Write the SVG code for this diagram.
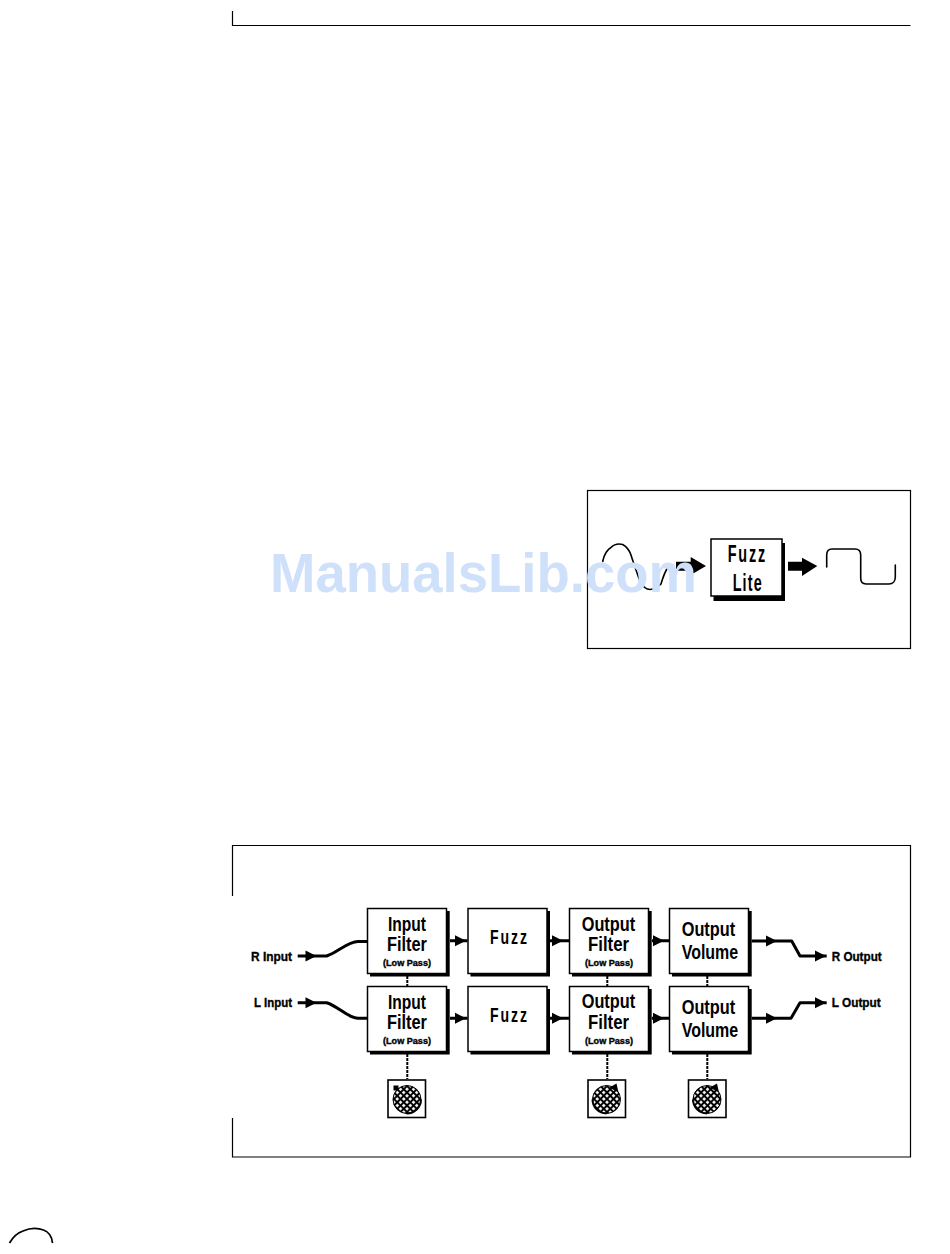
<svg xmlns="http://www.w3.org/2000/svg" width="950" height="1254" viewBox="0 0 950 1254">
<style>
text{font-family:"Liberation Sans",Arial,sans-serif;font-weight:700;fill:#000;text-anchor:start}
.frame{fill:none;stroke:#000;stroke-width:1.2}
.box{fill:#fff;stroke:#000;stroke-width:1.5}
.shadow{fill:#000}
.big{font-size:19.5px}
.fz{font-size:19.5px}
.small{font-size:8.5px;stroke:#000;stroke-width:.35}
.io{font-size:13px;stroke:#000;stroke-width:.35}
.wire{fill:none;stroke:#000;stroke-width:3;stroke-linejoin:round}
.thin{fill:none;stroke:#000;stroke-width:1.6;stroke-linejoin:round;stroke-linecap:round}
.link{fill:none;stroke:#000;stroke-width:2;stroke-dasharray:3 1}
.head{fill:#000}
.wm{font-size:55px;fill:#cfe1fa}
</style>
<defs>
<pattern id="dots" width="4.6" height="4.6" patternUnits="userSpaceOnUse" patternTransform="rotate(45)">
<rect width="4.6" height="4.6" fill="#000"/>
<rect x="1" y="1" width="2.600" height="2.600" fill="#fff"/>
</pattern>
<path id="ah" class="head" d="M0-5.500L11 0L0 5.500Z"/>
<g id="knobL">
<rect x="0.500" y="0.500" width="37.500" height="37.500" fill="#fff" stroke="#000" stroke-width="1.600"/>
<circle cx="19.500" cy="20" r="14" fill="url(#dots)" stroke="#000" stroke-width="1"/>
<path d="M19 34A14 14 0 0 0 33.500 20" fill="none" stroke="#000" stroke-width="2"/>
<rect x="6" y="6" width="5" height="5" fill="#000"/>
</g>
<g id="knobR">
<rect x="0.500" y="0.500" width="37.500" height="37.500" fill="#fff" stroke="#000" stroke-width="1.600"/>
<circle cx="19" cy="20" r="14" fill="url(#dots)" stroke="#000" stroke-width="1"/>
<path d="M5 20A14 14 0 0 0 19 34" fill="none" stroke="#000" stroke-width="2"/>
<path d="M22 8L29 4L31 13Z" fill="#000"/>
</g>
</defs>

<g id="page-rule">
<path class="frame" d="M232.500 11V25.500H910.500"/>
</g>
<path id="page-arc" fill="none" stroke="#000" stroke-width="1.800" d="M9.500 1243C13 1237 17 1233 23 1231C30 1228 38 1228 43.500 1230C49 1232 52 1237 52.500 1243"/>

<g id="fig1-frame"><rect class="frame" x="587.500" y="490.500" width="323" height="158"/></g>
<g id="fig1-sine"><path class="thin" d="M602.700 561.500C604 554 608 549 611 547.500C614 544.500 619 543.500 622.700 544.500C627 547 630 552 631 555C633 562 637 572 640 581.700C643 587 646 589.500 650 589.500C655 589 658 587 661 584C663 577 666 570 668.300 566.500"/></g>
<g id="fig1-connectors">
<path class="head" d="M676 561.700H690.700V557L706 566L690.700 575V570.700H676Z"/>
<path class="head" d="M788 561.700H802V557.700L817.300 566L802 576V570.700H788Z"/>
</g>
<g id="fuzz-lite">
<rect class="shadow" x="713.500" y="543" width="71.500" height="58"/>
<rect class="box" x="711" y="539" width="71" height="57"/>
<text transform="translate(727.700 561.700) scale(.6 1)" font-size="24" textLength="62.600" lengthAdjust="spacing">Fuzz</text>
<text transform="translate(732.700 590.700) scale(.6 1)" font-size="24" textLength="48.300" lengthAdjust="spacing">Lite</text>
</g>
<g id="fig1-square"><path class="thin" d="M826.700 567V555C826.700 551 829 549 832 549H855C859 549 860.700 551 860.700 555V578C860.700 582 863 584 866 584H889C893 584 895.300 581 895.300 577V565"/></g>

<g id="fig2-frame"><path class="frame" d="M232.500 896V845.500H910.500V1157H232.500V1118"/></g>

<g id="connectors">
<path class="wire" d="M297.700 956H326.700C338 952 348 941.500 358 941.500H367.300"/>
<path class="wire" d="M297.700 1002.700H326.700C338 1006 348 1018.300 358 1018.300H367.300"/>
<path class="wire" d="M450 940.700H467.500M550 940.700H569.300M652 940.700H669.300"/>
<path class="wire" d="M450 1018.300H467.500M550 1018.300H569.300M652 1018.300H669.300"/>
<path class="wire" d="M751.700 941H791.700L800 956H826.700"/>
<path class="wire" d="M751.700 1018.300H791L800 1002.700H826.700"/>
<path class="link" d="M407.300 976V987M607.300 976V987M707.300 976V987"/>
<path class="link" d="M407.300 1054V1079M607.300 1054V1079M707.300 1054V1079"/>
<use href="#ah" x="305.500" y="956"/>
<use href="#ah" x="305.500" y="1002.700"/>
<use href="#ah" x="455" y="940.700"/>
<use href="#ah" x="455" y="1018.300"/>
<use href="#ah" x="552" y="940.700"/>
<use href="#ah" x="552" y="1018.300"/>
<use href="#ah" x="653" y="940.700"/>
<use href="#ah" x="653" y="1018.300"/>
<use href="#ah" x="766" y="941"/>
<use href="#ah" x="766" y="1018.300"/>
<use href="#ah" x="815" y="956"/>
<use href="#ah" x="815" y="1002.700"/>
</g>

<g id="label-r-input"><text class="io" x="251" y="960.700" textLength="41" lengthAdjust="spacingAndGlyphs">R Input</text></g>
<g id="label-l-input"><text class="io" x="254" y="1006.700" textLength="38" lengthAdjust="spacingAndGlyphs">L Input</text></g>
<g id="label-r-output"><text class="io" x="831.700" y="960.700" textLength="50" lengthAdjust="spacingAndGlyphs">R Output</text></g>
<g id="label-l-output"><text class="io" x="831.700" y="1006.700" textLength="49" lengthAdjust="spacingAndGlyphs">L Output</text></g>

<g id="input-filter-r">
<rect class="shadow" x="370" y="911" width="79.700" height="65.500"/>
<rect class="box" x="367.500" y="908.500" width="79" height="65"/>
<text class="big" x="388" y="930.700" textLength="38" lengthAdjust="spacingAndGlyphs">Input</text>
<text class="big" x="387" y="951" textLength="40" lengthAdjust="spacingAndGlyphs">Filter</text>
<text class="small" x="383" y="966" textLength="48" lengthAdjust="spacingAndGlyphs">(Low Pass)</text>
</g>
<g id="input-filter-l">
<rect class="shadow" x="370" y="989" width="79.700" height="65.500"/>
<rect class="box" x="367.500" y="986.500" width="79" height="65"/>
<text class="big" x="388" y="1008.700" textLength="38" lengthAdjust="spacingAndGlyphs">Input</text>
<text class="big" x="387" y="1029" textLength="40" lengthAdjust="spacingAndGlyphs">Filter</text>
<text class="small" x="383" y="1043.500" textLength="48" lengthAdjust="spacingAndGlyphs">(Low Pass)</text>
</g>
<g id="fuzz-r">
<rect class="shadow" x="470.500" y="911" width="79.500" height="65.500"/>
<rect class="box" x="468" y="908.500" width="79" height="65"/>
<text class="fz" transform="translate(490 944) scale(.72 1)" textLength="51.400" lengthAdjust="spacing">Fuzz</text>
</g>
<g id="fuzz-l">
<rect class="shadow" x="470.500" y="989" width="79.500" height="65.500"/>
<rect class="box" x="468" y="986.500" width="79" height="65"/>
<text class="fz" transform="translate(490 1022) scale(.72 1)" textLength="51.400" lengthAdjust="spacing">Fuzz</text>
</g>
<g id="output-filter-r">
<rect class="shadow" x="572" y="911" width="79.700" height="65.500"/>
<rect class="box" x="569.500" y="908.500" width="79" height="65"/>
<text class="big" x="581.700" y="930.700" textLength="53.500" lengthAdjust="spacingAndGlyphs">Output</text>
<text class="big" x="588" y="951" textLength="41" lengthAdjust="spacingAndGlyphs">Filter</text>
<text class="small" x="585" y="966" textLength="48" lengthAdjust="spacingAndGlyphs">(Low Pass)</text>
</g>
<g id="output-filter-l">
<rect class="shadow" x="572" y="989" width="79.700" height="65.500"/>
<rect class="box" x="569.500" y="986.500" width="79" height="65"/>
<text class="big" x="581.700" y="1008.300" textLength="53.500" lengthAdjust="spacingAndGlyphs">Output</text>
<text class="big" x="588" y="1029" textLength="41" lengthAdjust="spacingAndGlyphs">Filter</text>
<text class="small" x="585" y="1043.500" textLength="48" lengthAdjust="spacingAndGlyphs">(Low Pass)</text>
</g>
<g id="output-volume-r">
<rect class="shadow" x="672" y="911" width="79.700" height="65.500"/>
<rect class="box" x="669.500" y="908.500" width="79" height="65"/>
<text class="big" x="681.700" y="936" textLength="53.500" lengthAdjust="spacingAndGlyphs">Output</text>
<text class="big" x="681.700" y="959.300" textLength="56.500" lengthAdjust="spacingAndGlyphs">Volume</text>
</g>
<g id="output-volume-l">
<rect class="shadow" x="672" y="989" width="79.700" height="65.500"/>
<rect class="box" x="669.500" y="986.500" width="79" height="65"/>
<text class="big" x="681.700" y="1014" textLength="53.500" lengthAdjust="spacingAndGlyphs">Output</text>
<text class="big" x="681.700" y="1036.700" textLength="56.500" lengthAdjust="spacingAndGlyphs">Volume</text>
</g>

<g id="knob-input"><use href="#knobL" x="387.500" y="1079.500"/></g>
<g id="knob-output-filter"><use href="#knobR" x="587.500" y="1079.500"/></g>
<g id="knob-output-volume"><use href="#knobR" x="688" y="1079.500"/></g>

<text id="watermark" class="wm" x="270" y="591.700" textLength="427" lengthAdjust="spacingAndGlyphs">ManualsLib.com</text>
</svg>
